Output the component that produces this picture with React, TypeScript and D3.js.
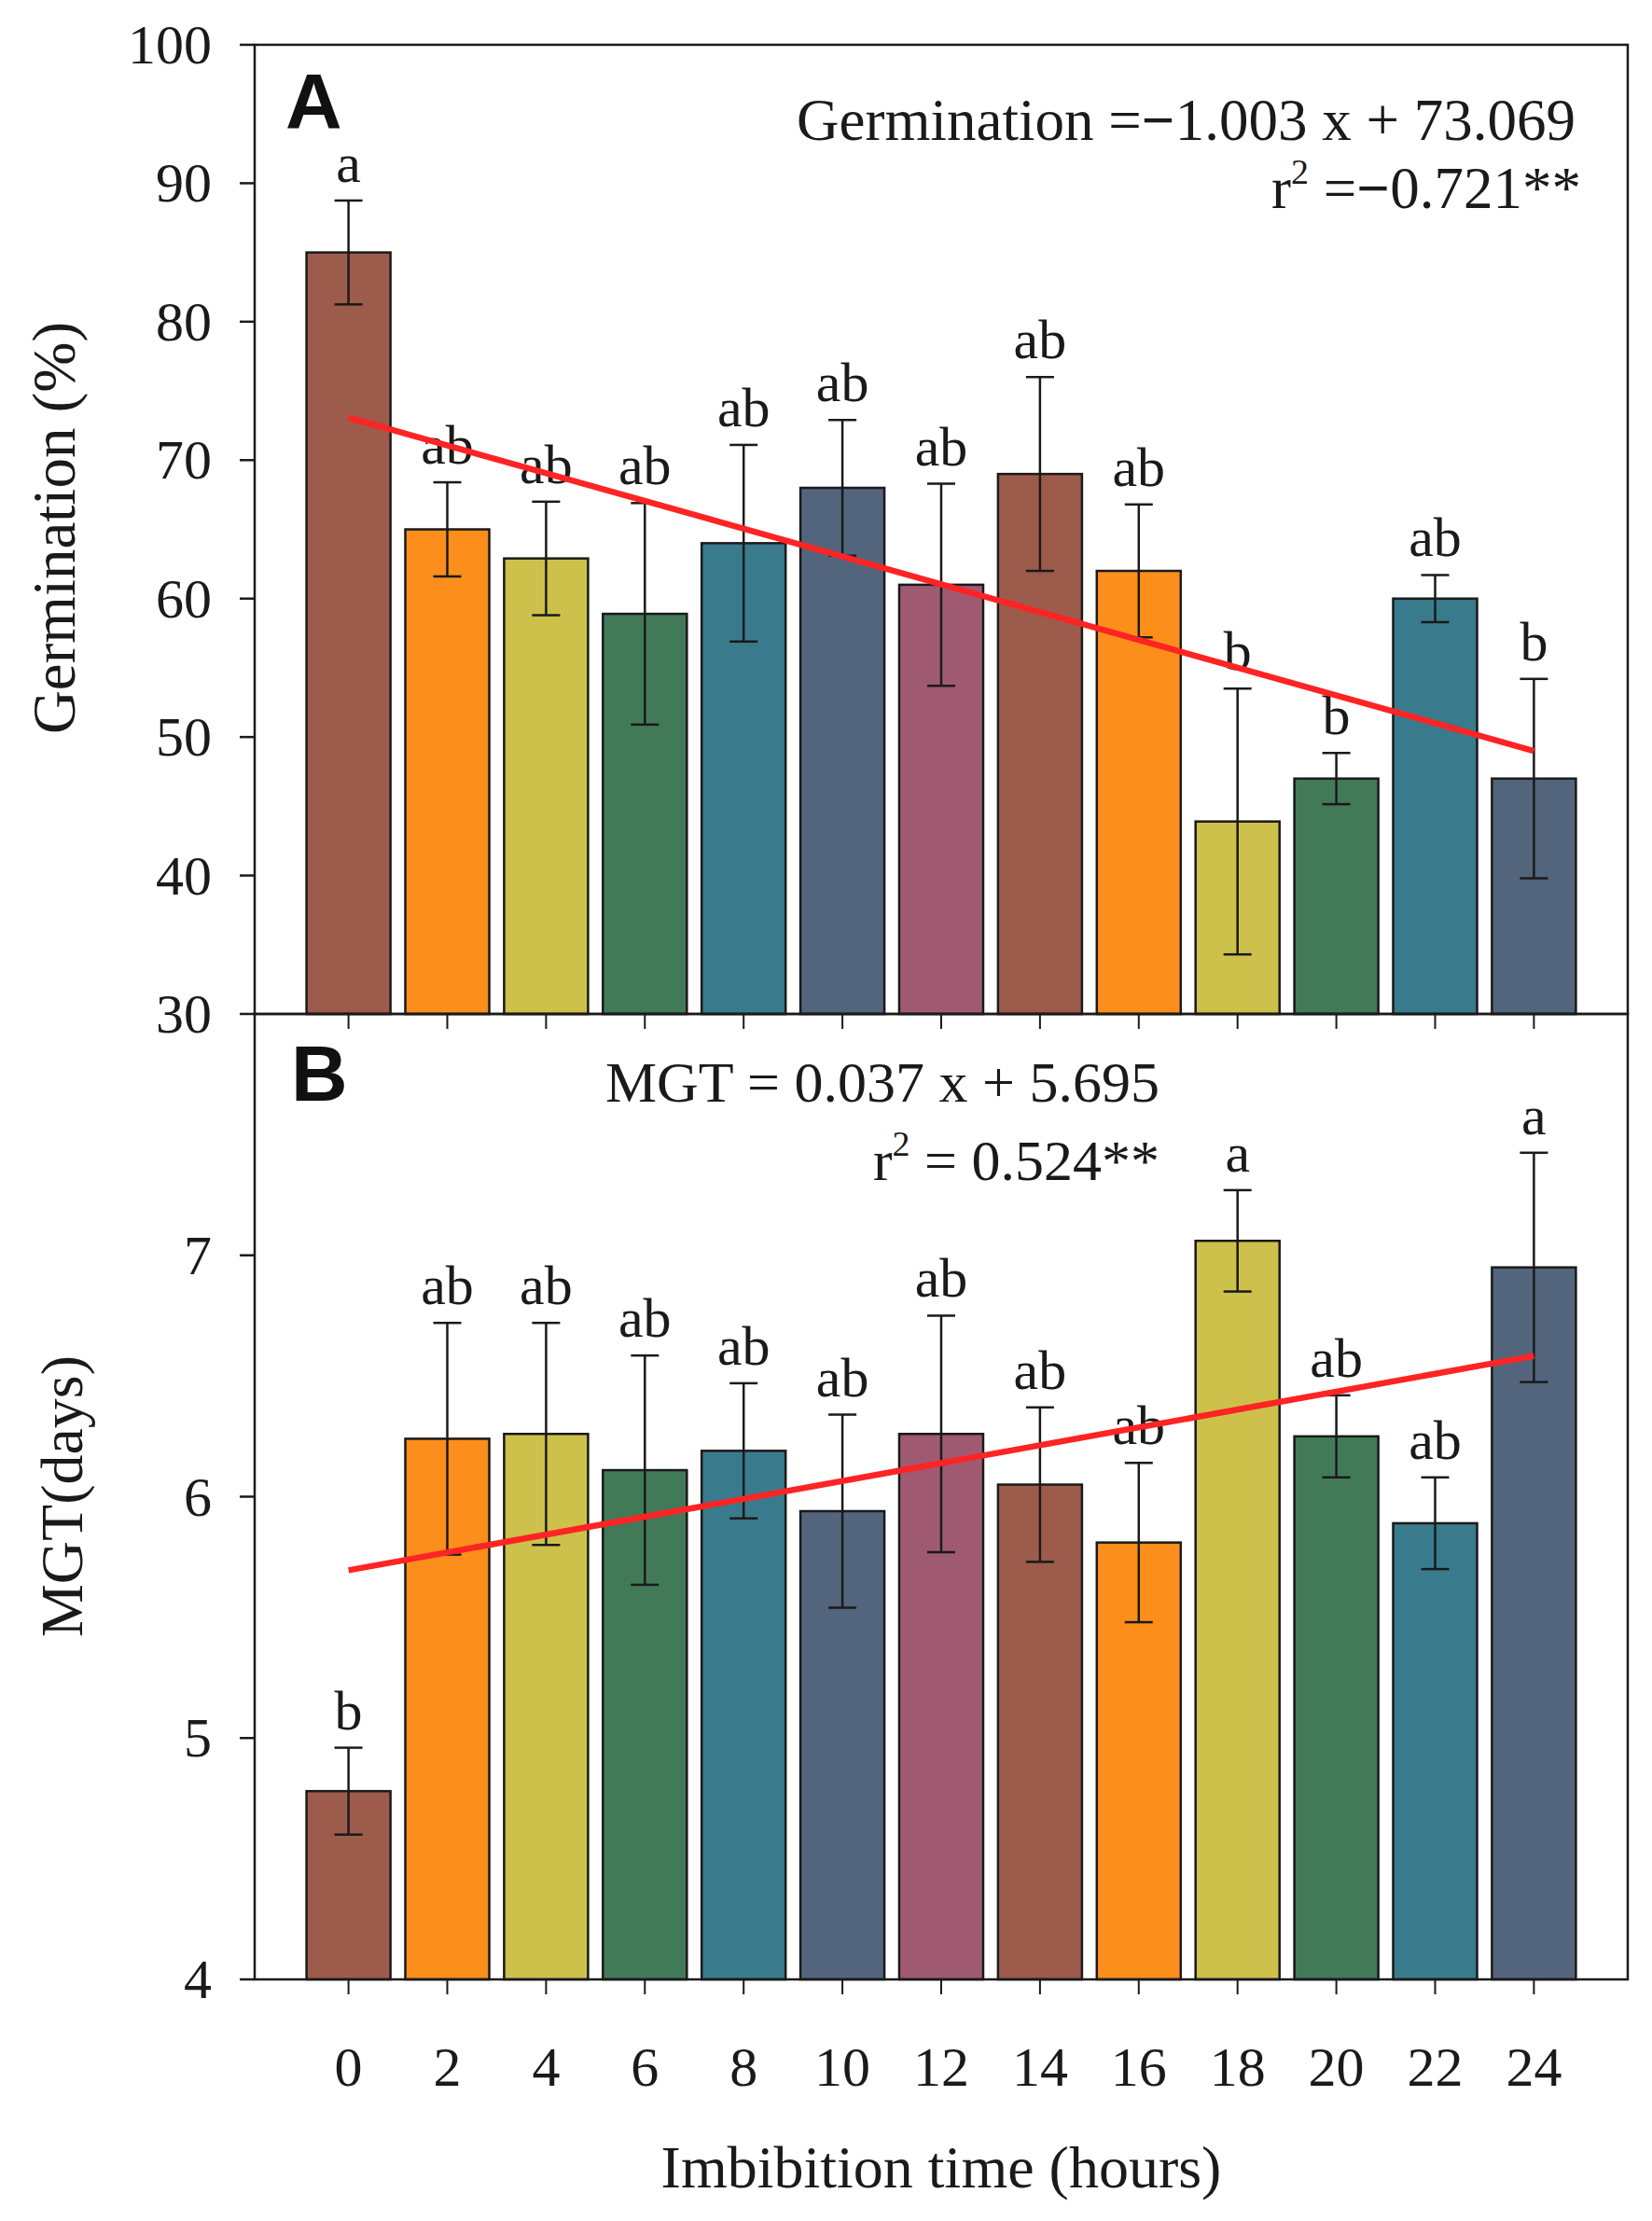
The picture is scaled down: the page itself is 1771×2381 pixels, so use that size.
import * as d3 from 'd3';

// Imbibition time (hours)
const HOURS = ['0', '2', '4', '6', '8', '10', '12', '14', '16', '18', '20', '22', '24'];

// Panel A – germination (%)
const GERM_MEAN = [85, 65, 62.9, 58.9, 64, 68, 61, 69, 62, 43.9, 47, 60, 47];
const GERM_ERR = [3.75, 3.4, 4.1, 8.0, 7.1, 4.9, 7.3, 7.0, 4.8, 9.6, 1.85, 1.7, 7.2];
const GERM_LETTERS = ['a', 'ab', 'ab', 'ab', 'ab', 'ab', 'ab', 'ab', 'ab', 'b', 'b', 'ab', 'b'];
const GERM_TICKS = [30, 40, 50, 60, 70, 80, 90, 100];
const GERM_FIT = { slope: -1.003, intercept: 73.069 };

// Panel B – mean germination time (days)
const MGT_MEAN = [4.78, 6.24, 6.26, 6.11, 6.19, 5.94, 6.26, 6.05, 5.81, 7.06, 6.25, 5.89, 6.95];
const MGT_ERR = [0.18, 0.48, 0.46, 0.475, 0.28, 0.4, 0.49, 0.32, 0.33, 0.21, 0.17, 0.19, 0.475];
const MGT_LETTERS = ['b', 'ab', 'ab', 'ab', 'ab', 'ab', 'ab', 'ab', 'ab', 'a', 'ab', 'ab', 'a'];
const MGT_TICKS = [4, 5, 6, 7];
const MGT_FIT = { slope: 0.037, intercept: 5.695 };

const BAR_COLORS = [
  '#9d5b4b', // brown
  '#fc8e1b', // orange
  '#cdc14b', // olive
  '#427a58', // green
  '#397b8c', // teal
  '#53657c', // slate
  '#9f5a71', // mauve
];

const W = 1771;
const H = 2381;
const LEFT = 273;
const RIGHT = 1745;
const A_TOP = 48;
const A_BOTTOM = 1087;
const B_TOP = 1087;
const B_BOTTOM = 2122;

const SERIF = '"Liberation Serif", "Times New Roman", serif';
const SANS = '"Liberation Sans", Arial, sans-serif';
const INK = '#1a1a1a';

const x = d3.scalePoint<string>().domain(HOURS).range([LEFT, RIGHT]).padding(0.95);
const barW = x.step() * 0.85;

interface PanelProps {
  mean: number[];
  err: number[];
  letters: string[];
  ticks: number[];
  fit: { slope: number; intercept: number };
  domain: [number, number];
  top: number;
  bottom: number;
}

function Panel({ mean, err, letters, ticks, fit, domain, top, bottom }: PanelProps) {
  const y = d3.scaleLinear().domain(domain).range([bottom, top]);
  const fitLine = d3
    .line<string>()
    .x((h) => x(h) as number)
    .y((h) => y(fit.intercept + fit.slope * +h));
  const ends = [HOURS[0], HOURS[HOURS.length - 1]];

  return (
    <g>
      {HOURS.map((h, i) => (
        <rect
          key={`bar-${h}`}
          x={(x(h) as number) - barW / 2}
          y={y(mean[i])}
          width={barW}
          height={bottom - y(mean[i])}
          fill={BAR_COLORS[i % BAR_COLORS.length]}
          stroke={INK}
          strokeWidth={2.5}
        />
      ))}
      {HOURS.map((h, i) => {
        const cx = x(h) as number;
        const hi = y(mean[i] + err[i]);
        const lo = y(mean[i] - err[i]);
        return (
          <g key={`err-${h}`} stroke={INK} strokeWidth={2.5}>
            <line x1={cx} x2={cx} y1={hi} y2={lo} />
            <line x1={cx - 15} x2={cx + 15} y1={hi} y2={hi} />
            <line x1={cx - 15} x2={cx + 15} y1={lo} y2={lo} />
          </g>
        );
      })}
      {HOURS.map((h, i) => (
        <text
          key={`lab-${h}`}
          x={x(h) as number}
          y={y(mean[i] + err[i]) - 20}
          textAnchor="middle"
          fontFamily={SERIF}
          fontSize={60}
          fill={INK}
        >
          {letters[i]}
        </text>
      ))}
      <path d={fitLine(ends) ?? ''} stroke="#ff2424" strokeWidth={6.5} fill="none" />
      {/* frame */}
      <rect x={LEFT} y={top} width={RIGHT - LEFT} height={bottom - top} fill="none" stroke={INK} strokeWidth={2.5} />
      {ticks.map((t) => (
        <g key={`yt-${t}`}>
          <line x1={LEFT - 16} x2={LEFT} y1={y(t)} y2={y(t)} stroke={INK} strokeWidth={2.5} />
          <text
            x={227}
            y={y(t)}
            textAnchor="end"
            dominantBaseline="central"
            fontFamily={SERIF}
            fontSize={60}
            fill={INK}
          >
            {t}
          </text>
        </g>
      ))}
      {HOURS.map((h) => (
        <line
          key={`xt-${h}`}
          x1={x(h) as number}
          x2={x(h) as number}
          y1={bottom}
          y2={bottom + 16}
          stroke={INK}
          strokeWidth={2}
        />
      ))}
    </g>
  );
}

export default function App() {
  return (
    <svg
      width={W}
      height={H}
      viewBox={`0 0 ${W} ${H}`}
      style={{ position: 'absolute', left: 0, top: 0, background: '#ffffff' }}
    >
      <rect width={W} height={H} fill="#ffffff" />
      <Panel
        mean={GERM_MEAN}
        err={GERM_ERR}
        letters={GERM_LETTERS}
        ticks={GERM_TICKS}
        fit={GERM_FIT}
        domain={[30, 100]}
        top={A_TOP}
        bottom={A_BOTTOM}
      />
      <Panel
        mean={MGT_MEAN}
        err={MGT_ERR}
        letters={MGT_LETTERS}
        ticks={MGT_TICKS}
        fit={MGT_FIT}
        domain={[4, 8]}
        top={B_TOP}
        bottom={B_BOTTOM}
      />

      {/* panel letters */}
      <text x={306} y={138} fontFamily={SANS} fontWeight="bold" fontSize={84} fill="#111">A</text>
      <text x={312} y={1180} fontFamily={SANS} fontWeight="bold" fontSize={84} fill="#111">B</text>

      {/* regression equations */}
      <text x={1689} y={150} textAnchor="end" fontFamily={SERIF} fontSize={63} fill={INK}>
        Germination =<tspan fontWeight="bold">−</tspan>1.003 x + 73.069
      </text>
      <text x={1695} y={223} textAnchor="end" fontFamily={SERIF} fontSize={63} fill={INK}>
        r<tspan fontSize={38} dy={-26}>2</tspan>
        <tspan dy={26}> =</tspan>
        <tspan fontWeight="bold">−</tspan>0.721**
      </text>
      <text x={1243} y={1181} textAnchor="end" fontFamily={SERIF} fontSize={62} fill={INK}>
        MGT = 0.037 x + 5.695
      </text>
      <text x={1243} y={1265} textAnchor="end" fontFamily={SERIF} fontSize={62} fill={INK}>
        r<tspan fontSize={38} dy={-26}>2</tspan>
        <tspan dy={26}> = 0.524**</tspan>
      </text>

      {/* x tick labels */}
      {HOURS.map((h) => (
        <text
          key={`xl-${h}`}
          x={x(h) as number}
          y={2236}
          textAnchor="middle"
          fontFamily={SERIF}
          fontSize={60}
          fill={INK}
        >
          {h}
        </text>
      ))}

      {/* axis titles */}
      <text x={(LEFT + RIGHT) / 2} y={2345} textAnchor="middle" fontFamily={SERIF} fontSize={64} fill={INK}>
        Imbibition time (hours)
      </text>
      <text
        transform={`translate(80, 566) rotate(-90)`}
        textAnchor="middle"
        fontFamily={SERIF}
        fontSize={65}
        fill={INK}
      >
        Germination (%)
      </text>
      <text
        transform={`translate(88, 1604) rotate(-90)`}
        textAnchor="middle"
        fontFamily={SERIF}
        fontSize={64}
        fill={INK}
      >
        MGT(days)
      </text>
    </svg>
  );
}
